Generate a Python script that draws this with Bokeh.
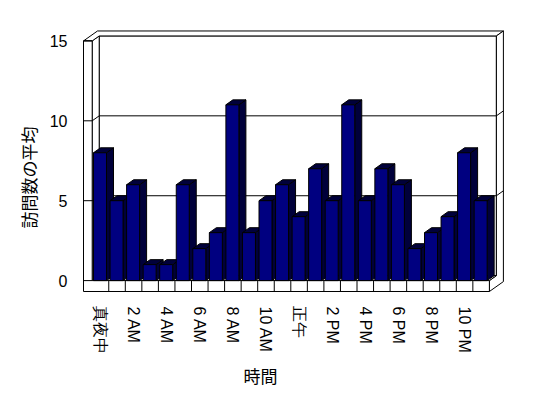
from bokeh.plotting import figure
from bokeh.models import FixedTicker, Title
from bokeh.embed import file_html
from bokeh.resources import INLINE

# ---- data ----
hours = ["真夜中", "1 AM", "2 AM", "3 AM", "4 AM", "5 AM", "6 AM", "7 AM",
         "8 AM", "9 AM", "10 AM", "11 AM", "正午", "1 PM", "2 PM", "3 PM",
         "4 PM", "5 PM", "6 PM", "7 PM", "8 PM", "9 PM", "10 PM", "11 PM"]
visits = [8, 5, 6, 1, 1, 6, 2, 3, 11, 3, 5, 6, 4, 7, 5, 11, 5, 7, 6, 2, 3, 4, 8, 5]
y_ticks = [0, 5, 10, 15]
y_title = "訪問数の平均"
x_title = "時間"

# ---- geometry / style (pixel-derived sizes in data units) ----
SX = 16.55   # px per category slot
SY = 16.1    # px per value unit
X0_PX = 91.7  # px of left edge of first slot
Y0_PX = 282.0  # px of value 0
W = 8.7 / SX    # wall thickness
F = 11.0 / SY   # floor thickness
DX = 7.0 / SX   # depth offset x
DY = 5.0 / SY   # depth offset y
BA = 1.3 / SX   # bar inset
BW = 13.0 / SX  # bar width

FRONT = "#000080"
SHADE = "#00003a"

N = len(visits)
YMAX = y_ticks[-1]

# frame in px
fl, fr, ft, fb = 80, 506, 28, 295
x_start = (fl - X0_PX) / SX - 0.5
x_end = (fr - X0_PX) / SX - 0.5
y_start = (Y0_PX - fb) / SY
y_end = (Y0_PX - ft) / SY

CW, CH = 540, 390
p = figure(width=CW, height=CH, output_backend="svg", toolbar_location=None,
           x_range=(x_start, x_end), y_range=(y_start, y_end),
           min_border_left=fl, min_border_right=CW - fr,
           min_border_top=ft, min_border_bottom=CH - fb)
p.outline_line_color = None
p.xgrid.visible = False
p.ygrid.visible = False
p.background_fill_color = "white"
p.border_fill_color = "white"

L0 = -0.5
R0 = N - 0.5

def poly(pts):
    return [q[0] for q in pts], [q[1] for q in pts]

frame_polys = [
    [(L0 + DX, DY), (R0 + DX, DY), (R0 + DX, YMAX + DY), (L0 + DX, YMAX + DY)],
    [(L0, 0), (L0, YMAX), (L0 + DX, YMAX + DY), (L0 + DX, DY)],
    [(L0 - W, YMAX), (L0, YMAX), (L0 + DX, YMAX + DY), (R0 + DX, YMAX + DY),
     (R0 + 2 * DX, YMAX + 2 * DY), (L0 - W + 2 * DX, YMAX + 2 * DY)],
    [(R0, -F), (R0 + 2 * DX, -F + 2 * DY), (R0 + 2 * DX, YMAX + 2 * DY),
     (R0 + DX, YMAX + DY), (R0 + DX, DY), (R0, 0)],
    [(L0, 0), (R0, 0), (R0 + DX, DY), (L0 + DX, DY)],
    [(L0 - W, -F), (R0, -F), (R0, 0), (L0, 0), (L0, YMAX), (L0 - W, YMAX)],
]
fx, fy = zip(*[poly(q) for q in frame_polys])
p.patches(list(fx), list(fy), fill_color="white", line_color="black", line_width=1)

gx, gy = [], []
for v in y_ticks:
    gx.append([L0 - W, L0]); gy.append([v, v])
    if 0 < v < YMAX:
        gx.append([L0, L0 + DX, R0 + DX, R0 + 2 * DX])
        gy.append([v, v + DY, v + DY, v + 2 * DY])
for k in range(1, N):
    gx.append([k - 0.5, k - 0.5]); gy.append([-F, 0])
p.multi_line(gx, gy, line_color="black", line_width=1)

bx, by, bc = [], [], []
for k, v in enumerate(visits):
    x1 = k - 0.5 + BA
    x2 = x1 + BW
    side = [(x2, 0), (x2, v), (x2 + DX, v + DY), (x2 + DX, DY)]
    top = [(x1, v), (x2, v), (x2 + DX, v + DY), (x1 + DX, v + DY)]
    front = [(x1, 0), (x2, 0), (x2, v), (x1, v)]
    for q, c in ((side, SHADE), (top, SHADE), (front, FRONT)):
        xs, ys = poly(q)
        bx.append(xs); by.append(ys); bc.append(c)
p.patches(bx, by, fill_color=bc, line_color="black", line_width=1)

p.yaxis.ticker = FixedTicker(ticks=y_ticks)
p.yaxis.axis_line_color = None
p.yaxis.major_tick_line_color = None
p.yaxis.minor_tick_line_color = None
p.yaxis.major_label_standoff = 7
p.yaxis.major_label_text_font = "Liberation Sans"
p.yaxis.major_label_text_font_size = "16px"
p.yaxis.major_label_text_color = "black"

xt = list(range(0, N, 2))
p.xaxis.ticker = FixedTicker(ticks=xt)
p.xaxis.major_label_overrides = {i: hours[i] for i in xt}
p.xaxis.major_label_orientation = "vertical"
p.xaxis.axis_line_color = None
p.xaxis.major_tick_line_color = None
p.xaxis.minor_tick_line_color = None
p.xaxis.major_label_standoff = 7
p.xaxis.major_label_text_font = "Liberation Sans"
p.xaxis.major_label_text_font_size = "16px"
p.xaxis.major_label_text_color = "black"

p.add_layout(Title(text=y_title, align="left", offset=65, standoff=12,
                   text_font="Noto Sans CJK JP", text_font_size="17px",
                   text_font_style="normal", text_color="black"), "left")
p.add_layout(Title(text=x_title, align="left", offset=163, standoff=6,
                   text_font="Noto Sans CJK JP", text_font_size="17px",
                   text_font_style="normal", text_color="black"), "below")

open("out.html", "w").write(file_html(p, INLINE))
